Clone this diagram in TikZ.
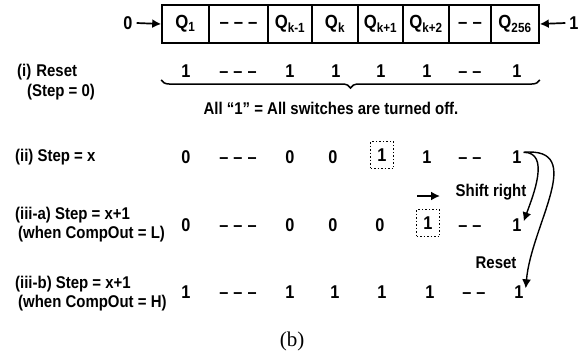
\documentclass[tikz,border=0pt]{standalone}
\usepackage{fontspec}
\setmainfont{Liberation Sans}[FakeStretch=0.88]
\newfontfamily\capfont{Liberation Serif}
\usetikzlibrary{arrows.meta,decorations.pathreplacing}

\begin{document}
\begin{tikzpicture}[x=1pt,y=-1pt,
    cell/.style={draw, line width=1.6pt, minimum height=38, inner sep=0pt, text height=13, text depth=3.5, font=\fontsize{19}{21}\selectfont\bfseries},
    val/.style={inner sep=0pt, text height=13, text depth=0, font=\fontsize{18.5}{20}\selectfont\bfseries},
    lbl/.style={anchor=west, inner sep=0pt, font=\fontsize{17}{19}\selectfont\bfseries},
    dotbox/.style={draw, dotted, line width=1.5pt, minimum width=23, minimum height=27},
    arr/.style={-{Latex[length=9pt,width=9pt]}, line width=1.7pt}]
        \useasboundingbox (0,0) rectangle (584,354);

        % Register cells
        \node[cell, minimum width=47] (q1) at (185.5,24) {Q\textsubscript{1}};
        \node[cell, minimum width=59] (d1) at (238.5,24) {--\hspace{5pt}--\hspace{5pt}--};
        \node[cell, minimum width=44] (qkm) at (290,24) {Q\textsubscript{k-1}};
        \node[cell, minimum width=46] (qk) at (335,24) {Q\textsubscript{k}};
        \node[cell, minimum width=45] (qkp) at (380.5,24) {Q\textsubscript{k+1}};
        \node[cell, minimum width=46] (qkpp) at (426,24) {Q\textsubscript{k+2}};
        \node[cell, minimum width=42] (d2) at (470,24) {--\hspace{5pt}--};
        \node[cell, minimum width=48] (q256) at (515,24) {Q\textsubscript{256}};
        \node[val] (zin) at (128,23) {0};
        \node[val] (oin) at (574,23) {1};
        \draw[arr] (zin.east) ++(4,0) coordinate (zs) (zs) -- (q1.west);
        \draw[arr] (oin.west) ++(-4,0) coordinate (os) (os) -- (q256.east);

        % (i) Reset
        \node[lbl] (l1a) at (17,72) {(i)\hspace{5pt}Reset};
        \node[lbl] (l1b) at (27,92) {(Step = 0)};
        \node[val] (a1) at (186,71) {1};
        \node[val] (a2) at (238,71) {--\hspace{5pt}--\hspace{5pt}--};
        \node[val] (a3) at (290,71) {1};
        \node[val] (a4) at (336,71) {1};
        \node[val] (a5) at (381,71) {1};
        \node[val] (a6) at (427,71) {1};
        \node[val] (a7) at (470,71) {--\hspace{5pt}--};
        \node[val] (a8) at (517,71) {1};
        \draw[decorate, decoration={brace, mirror, amplitude=8pt}, line width=1.5pt] (q1.west |- 0,80) -- (q256.east |- 0,80);
        \node[lbl, anchor=center] (note) at (331,108) {All ``1'' = All switches are turned off.};

        % (ii) Step = x
        \node[lbl] (l2) at (15,157) {(ii) Step = x};
        \node[val] (b1) at (186,157) {0};
        \node[val] (b2) at (238,157) {--\hspace{5pt}--\hspace{5pt}--};
        \node[val] (b3) at (290,157) {0};
        \node[val] (b4) at (333,157) {0};
        \node[val, dotbox] (b5) at (382,155) {1};
        \node[val] (b6) at (427,157) {1};
        \node[val] (b7) at (470,157) {--\hspace{5pt}--};
        \node[val] (b8) at (517,157) {1};

        % shift right
        \coordinate (sa) at (417,196);
        \coordinate (sb) at (440,196);
        \draw[arr] (sa) -- (sb);
        \node[lbl, anchor=center] (shift) at (491,192) {Shift right};

        % (iii-a)
        \node[lbl] (l3a) at (15,215) {(iii-a) Step = x+1};
        \node[lbl] (l3b) at (18,234) {(when CompOut = L)};
        \node[val] (c1) at (186,225) {0};
        \node[val] (c2) at (238,225) {--\hspace{5pt}--\hspace{5pt}--};
        \node[val] (c3) at (290,225) {0};
        \node[val] (c4) at (333,225) {0};
        \node[val] (c5) at (380,225) {0};
        \node[val, dotbox] (c6) at (428,223) {1};
        \node[val] (c7) at (470,225) {--\hspace{5pt}--};
        \node[val] (c8) at (517,225) {1};

        \node[lbl, anchor=center] (reset) at (496,263) {Reset};

        % (iii-b)
        \node[lbl] (l4a) at (15,284) {(iii-b) Step = x+1};
        \node[lbl] (l4b) at (18,303) {(when CompOut = H)};
        \node[val] (e1) at (186,292) {1};
        \node[val] (e2) at (238,292) {--\hspace{5pt}--\hspace{5pt}--};
        \node[val] (e3) at (290,292) {1};
        \node[val] (e4) at (335,292) {1};
        \node[val] (e5) at (382,292) {1};
        \node[val] (e6) at (430,292) {1};
        \node[val] (e7) at (474,292) {--\hspace{5pt}--};
        \node[val] (e8) at (519,292) {1};

        % Curved arrows
        \draw[arr, line width=1.4pt] (b8.north east) ++(2,2) coordinate (cs) (cs) to[out=0, in=70] ([xshift=2pt,yshift=-3pt]c8.north east);
        \draw[arr, line width=1.4pt] (cs) to[out=5, in=85, looseness=1.2] ([xshift=2pt,yshift=-3pt]e8.north east);

        \node[font=\capfont\fontsize{21}{23}\selectfont] (cap) at (292,341) {(b)};
    \end{tikzpicture}
\end{document}
